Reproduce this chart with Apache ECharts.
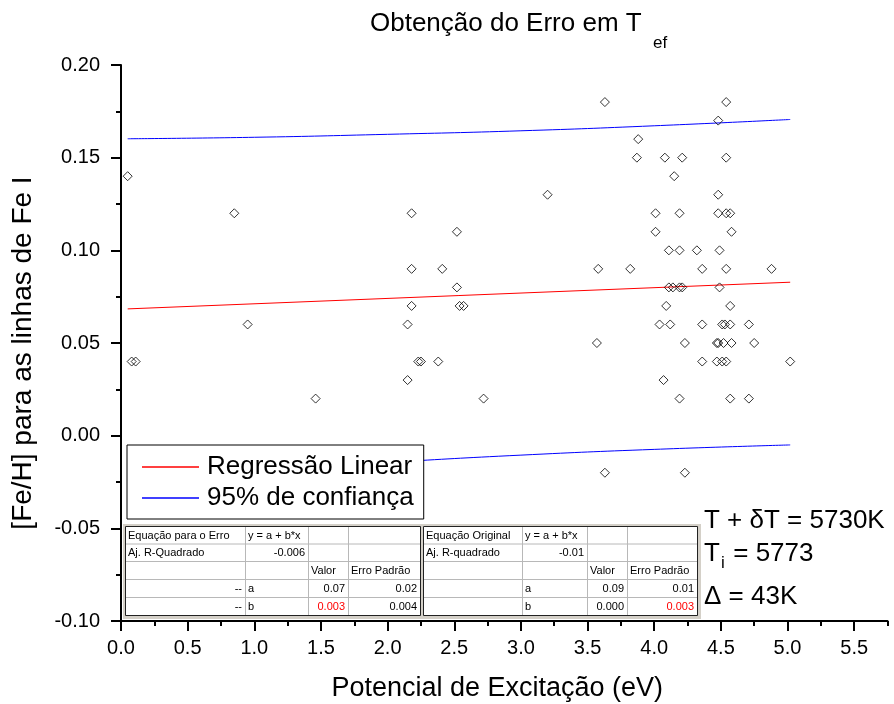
<!DOCTYPE html>
<html><head><meta charset="utf-8">
<script src="https://cdn.jsdelivr.net/npm/echarts@6/dist/echarts.min.js"></script>
<style>html,body{margin:0;padding:0;background:#fff}#c{width:894px;height:704px}</style>
</head><body><div id="c"></div>
<script>
// ---------- data ----------
const titleText = 'Obtenção do Erro em T';
const titleSub = 'ef';
const xName = 'Potencial de Excitação (eV)';
const yName = '[Fe/H] para as linhas de Fe I';

const pointsX = [
  0.05, 0.08, 0.11, 0.85, 0.95, 1.46,
  2.15, 2.15, 2.18, 2.18, 2.18, 2.23, 2.25, 2.38, 2.41, 2.52, 2.52, 2.54, 2.57, 2.72, 3.20,
  3.63, 4.54, 4.48, 3.88, 3.87, 4.08, 4.21, 4.54, 4.15, 4.48,
  4.01, 4.19, 4.48, 4.54, 4.57, 4.01, 4.58,
  4.11, 4.19, 4.32, 4.49,
  3.58, 3.82, 4.36, 4.54, 4.88,
  4.11, 4.14, 4.19, 4.21, 4.49,
  4.09, 4.57,
  4.04, 4.12, 4.36, 4.51, 4.53, 4.57, 4.71,
  3.57, 4.23, 4.47, 4.48, 4.52, 4.58, 4.75,
  4.36, 4.47, 4.51, 4.54, 5.02,
  4.07, 4.19, 4.57, 4.71,
  3.63, 4.23
];
const pointsY = [
  0.14, 0.04, 0.04, 0.12, 0.06, 0.02,
  0.06, 0.03, 0.12, 0.09, 0.07, 0.04, 0.04, 0.04, 0.09, 0.08, 0.11, 0.07, 0.07, 0.02, 0.13,
  0.18, 0.18, 0.17, 0.16, 0.15, 0.15, 0.15, 0.15, 0.14, 0.13,
  0.12, 0.12, 0.12, 0.12, 0.12, 0.11, 0.11,
  0.10, 0.10, 0.10, 0.10,
  0.09, 0.09, 0.09, 0.09, 0.09,
  0.08, 0.08, 0.08, 0.08, 0.08,
  0.07, 0.07,
  0.06, 0.06, 0.06, 0.06, 0.06, 0.06, 0.06,
  0.05, 0.05, 0.05, 0.05, 0.05, 0.05, 0.05,
  0.04, 0.04, 0.04, 0.04, 0.04,
  0.03, 0.02, 0.02, 0.02,
  -0.02, -0.02
];

const regX = [0.05, 5.02];
const regY = [0.0684, 0.0828];
const bandX = [0.05, 1.0, 2.0, 3.0, 4.0, 5.02];
const bandUpper = [0.1602, 0.1610, 0.1626, 0.1645, 0.1672, 0.1706];
const bandLower = [-0.0234, -0.0186, -0.0144, -0.0105, -0.0074, -0.0050];

const xTickValues = [0, 0.5, 1.0, 1.5, 2.0, 2.5, 3.0, 3.5, 4.0, 4.5, 5.0, 5.5];

const legendNames = ['Regressão Linear', '95% de confiança'];

const table1 = [
  ['Equação para o Erro', 'y = a + b*x', '', ''],
  ['Aj. R-Quadrado', '-0.006', '', ''],
  ['', '', 'Valor', 'Erro Padrão'],
  ['--', 'a', '0.07', '0.02'],
  ['--', 'b', '0.003', '0.004']
];
const table2 = [
  ['Equação Original', 'y = a + b*x', '', ''],
  ['Aj. R-quadrado', '-0.01', '', ''],
  ['', '', 'Valor', 'Erro Padrão'],
  ['', 'a', '0.09', '0.01'],
  ['', 'b', '0.000', '0.003']
];
const tableAlign = [
  ['l', 'l', 'l', 'l'],
  ['l', 'r', 'l', 'l'],
  ['l', 'l', 'l', 'l'],
  ['r', 'l', 'r', 'r'],
  ['r', 'l', 'r', 'r']
];
const table1Red = [[4, 2]];
const table2Red = [[4, 3]];

const note1 = 'T + δT = 5730K';
const note2Main = 'T';
const note2Sub = 'i';
const note2Rest = ' = 5773';
const note3 = 'Δ = 43K';

// ---------- build ----------
const FONT = "'Liberation Sans', Arial, sans-serif";
const scatterData = pointsX.map((x, i) => [x, pointsY[i]]);
const regData = regX.map((x, i) => [x, regY[i]]);
const upData = bandX.map((x, i) => [x, bandUpper[i]]);
const loData = bandX.map((x, i) => [x, bandLower[i]]);

function buildTable(cols, rows, cells, reds) {
  const els = [];
  const x0 = cols[0], x1 = cols[cols.length - 1], y0 = rows[0], y1 = rows[rows.length - 1];
  els.push({ type: 'rect', shape: { x: x0, y: y0, width: x1 - x0, height: y1 - y0 },
    style: { fill: '#fff', stroke: null }, z: 10 });
  for (let i = 1; i < rows.length - 1; i++) {
    els.push({ type: 'line', shape: { x1: x0, y1: rows[i] + 0.5, x2: x1, y2: rows[i] + 0.5 },
      style: { stroke: '#b8b8b8', lineWidth: 1 }, z: 11 });
  }
  for (let j = 1; j < cols.length - 1; j++) {
    els.push({ type: 'line', shape: { x1: cols[j] + 0.5, y1: y0, x2: cols[j] + 0.5, y2: y1 },
      style: { stroke: '#b8b8b8', lineWidth: 1 }, z: 11 });
  }
  els.push({ type: 'rect', shape: { x: x0 + 0.5, y: y0 + 0.5, width: x1 - x0, height: y1 - y0 },
    style: { fill: null, stroke: '#222', lineWidth: 1 }, z: 12 });
  for (let r = 0; r < cells.length; r++) {
    for (let c = 0; c < cells[r].length; c++) {
      const t = cells[r][c];
      if (!t) continue;
      const al = tableAlign[r][c];
      const isRed = reds.some(p => p[0] === r && p[1] === c);
      els.push({ type: 'text', z: 13,
        style: { text: t, x: al === 'r' ? cols[c + 1] - 3 : cols[c] + 3, y: (rows[r] + rows[r + 1]) / 2 + 1,
          align: al === 'r' ? 'right' : 'left', verticalAlign: 'middle',
          font: '11px ' + FONT, fill: isRed ? '#ff0000' : '#000' } });
    }
  }
  return els;
}

const rowsY = [526, 543.5, 561, 579, 597, 615];
const graphics = [];
graphics.push({ type: 'rect', shape: { x: 123, y: 524, width: 578, height: 95 },
  style: { fill: '#d4d0c8' }, z: 9 });
graphics.push(...buildTable([125, 245, 308, 348, 420], rowsY, table1, table1Red));
graphics.push(...buildTable([423, 522, 587, 627, 697], rowsY, table2, table2Red));
graphics.push({ type: 'text', z: 13, style: { text: titleSub, x: 653, y: 35, font: '17px ' + FONT, fill: '#000' } });
graphics.push({ type: 'text', z: 13, style: { text: note1, x: 704, y: 508, font: '26px ' + FONT, fill: '#000' } });
graphics.push({ type: 'text', z: 13, style: { text: note2Main, x: 704, y: 541, font: '26px ' + FONT, fill: '#000' } });
graphics.push({ type: 'text', z: 13, style: { text: note2Sub, x: 721, y: 555, font: '17px ' + FONT, fill: '#000' } });
graphics.push({ type: 'text', z: 13, style: { text: note2Rest, x: 726, y: 541, font: '26px ' + FONT, fill: '#000' } });
graphics.push({ type: 'text', z: 13, style: { text: note3, x: 704, y: 584, font: '26px ' + FONT, fill: '#000' } });

const chart = echarts.init(document.getElementById('c'), null, { renderer: 'canvas' });
const axisLineStyle = { color: '#000', width: 2 };
chart.setOption({
  animation: false,
  backgroundColor: '#fff',
  textStyle: { fontFamily: FONT },
  title: { text: titleText, left: 365, top: 6,
    textStyle: { fontSize: 26, fontWeight: 'normal', color: '#000', fontFamily: FONT } },
  grid: { left: 121, top: 65, right: 6.5, bottom: 83, containLabel: false, outerBoundsMode: 'none' },
  legend: {
    data: legendNames.map(n => ({ name: n, icon: 'rect' })),
    orient: 'vertical', left: 127, top: 445,
    itemWidth: 57, itemHeight: 1.5, itemGap: 5,
    padding: [9, 10, 8, 15],
    backgroundColor: '#fff', borderColor: '#000', borderWidth: 1,
    textStyle: { fontSize: 26, color: '#000', fontFamily: FONT, padding: [0, 0, 0, 3] },
    selectedMode: false, z: 6
  },
  xAxis: [
    { type: 'value', min: 0, max: 5.75, interval: 0.25, position: 'bottom',
      axisLine: { show: true, onZero: false, lineStyle: axisLineStyle },
      axisTick: { show: true, length: 5, lineStyle: { color: '#000', width: 2 } },
      axisLabel: { show: false }, splitLine: { show: false } },
    { type: 'value', min: 0, max: 5.75, interval: 0.5, position: 'bottom',
      axisLine: { show: false, onZero: false },
      axisTick: { show: true, length: 10, customValues: xTickValues, lineStyle: { color: '#000', width: 2 } },
      axisLabel: { show: true, customValues: xTickValues, formatter: v => v.toFixed(1),
        fontSize: 20, color: '#000', margin: 17, fontFamily: FONT },
      splitLine: { show: false },
      name: xName, nameLocation: 'middle', nameGap: 54,
      nameTextStyle: { fontSize: 27, color: '#000', fontFamily: FONT, padding: [0, 14, 0, 0] } }
  ],
  yAxis: {
    type: 'value', min: -0.1, max: 0.2, interval: 0.05,
    axisLine: { show: true, onZero: false, lineStyle: axisLineStyle },
    axisTick: { show: true, length: 10, lineStyle: { color: '#000', width: 2 } },
    minorTick: { show: true, splitNumber: 2, length: 5, lineStyle: { color: '#000', width: 2 } },
    axisLabel: { formatter: v => v.toFixed(2), fontSize: 20, color: '#000', margin: 21, fontFamily: FONT },
    splitLine: { show: false },
    name: yName, nameLocation: 'middle', nameGap: 84,
    nameTextStyle: { fontSize: 28, color: '#000', fontFamily: FONT, padding: [0, 20, 0, 0] }
  },
  series: [
    { name: 'Dados', type: 'scatter', xAxisIndex: 0, data: scatterData,
      symbol: 'diamond', symbolSize: 9,
      itemStyle: { color: 'rgba(0,0,0,0)', borderColor: '#000', borderWidth: 1 }, z: 3 },
    { name: legendNames[0], type: 'line', xAxisIndex: 0, data: regData, symbol: 'none',
      itemStyle: { color: '#ff0000' }, lineStyle: { color: '#ff0000', width: 1 }, z: 2 },
    { name: legendNames[1], type: 'line', xAxisIndex: 0, data: upData, symbol: 'none', smooth: true,
      itemStyle: { color: '#0000ff' }, lineStyle: { color: '#0000ff', width: 1 }, z: 2 },
    { name: legendNames[1], type: 'line', xAxisIndex: 0, data: loData, symbol: 'none', smooth: true,
      itemStyle: { color: '#0000ff' }, lineStyle: { color: '#0000ff', width: 1 }, z: 2 }
  ],
  graphic: graphics
});
</script>
</body></html>
